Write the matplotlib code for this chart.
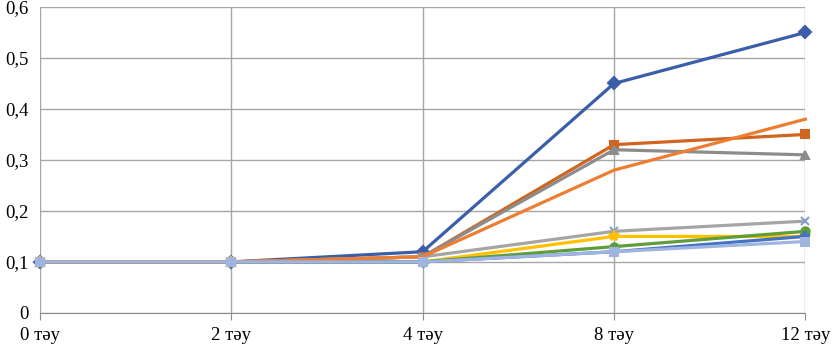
import matplotlib.pyplot as plt
from matplotlib.ticker import FuncFormatter

categories = ["0 тәу", "2 тәу", "4 тәу", "8 тәу", "12 тәу"]

s_blue = [0.10, 0.10, 0.12, 0.45, 0.55]
s_square = [0.10, 0.10, 0.11, 0.33, 0.35]
s_triangle = [0.10, 0.10, 0.11, 0.32, 0.31]
s_orange = [0.10, 0.10, 0.11, 0.28, 0.38]
s_cross = [0.10, 0.10, 0.11, 0.16, 0.18]
s_yellow = [0.10, 0.10, 0.10, 0.15, 0.15]
s_green = [0.10, 0.10, 0.10, 0.13, 0.16]
s_darkblue = [0.10, 0.10, 0.10, 0.12, 0.15]
s_lightblue = [0.10, 0.10, 0.10, 0.12, 0.14]

plt.rcParams["font.family"] = ["Liberation Serif", "DejaVu Serif"]

fig = plt.figure(figsize=(8.32, 3.5), dpi=100)
ax = fig.add_axes([0.048, 0.106, 0.92, 0.874])

x = list(range(len(categories)))

# drawn in series order, later ones on top (like the spreadsheet chart)
series = [
    (s_blue, "#3a5ea8", "D"),
    (s_square, "#d0651f", "s"),
    (s_triangle, "#8c8c8c", "^"),
    (s_cross, "#a5a5a5", "x"),
    (s_yellow, "#ffc000", "*"),
    (s_green, "#5e9d3a", "o"),
    (s_darkblue, "#4472c4", "P"),
    (s_orange, "#ed7d31", None),
    (s_lightblue, "#9fb4de", "s"),
]

for values, color, marker in series:
    ax.plot(
        x,
        values,
        color=color,
        linewidth=2.3,
        marker=marker,
        markersize=6 if marker != "*" else 8,
        markeredgecolor=color if marker != "x" else "#7f9fcf",
        markeredgewidth=1.5,
        clip_on=False,
    )

ax.set_xlim(0, 4)
ax.set_ylim(0, 0.6)
ax.set_yticks([0, 0.1, 0.2, 0.3, 0.4, 0.5, 0.6])
ax.yaxis.set_major_formatter(
    FuncFormatter(lambda v, p: "0" if v == 0 else f"{v:.1f}".replace(".", ","))
)
ax.set_xticks(x)
ax.set_xticklabels(categories)

ax.grid(True, color="#a6a6a6", linewidth=1.0)
ax.set_axisbelow(True)
for side in ["top", "right", "left"]:
    ax.spines[side].set_visible(False)
ax.spines["bottom"].set_color("#8c8c8c")
ax.tick_params(axis="y", length=0, labelsize=13.5, pad=8)
ax.tick_params(axis="x", length=5, color="#8c8c8c", labelsize=13.5, pad=5)

fig.savefig("out.png", dpi=100)
